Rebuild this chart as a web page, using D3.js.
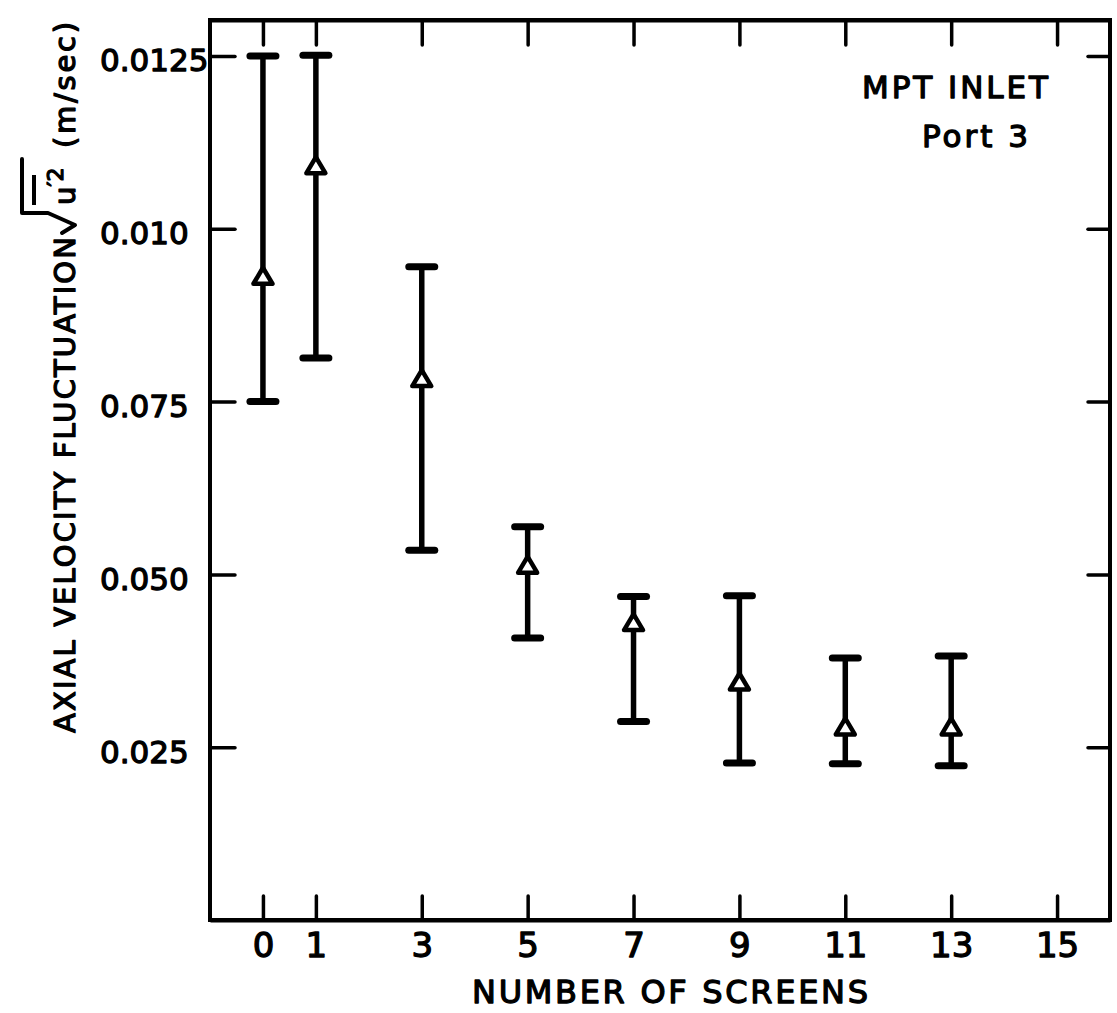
<!DOCTYPE html>
<html>
<head>
<meta charset="utf-8">
<script src="https://cdn.jsdelivr.net/npm/d3@7"></script>
<style>
  html, body { margin: 0; padding: 0; background: #fff; }
  svg { display: block; }
  text { font-family: "DejaVu Sans", "Liberation Sans", sans-serif; fill: #000; stroke: #000; stroke-width: 1.3px; stroke-linejoin: round; }
</style>
</head>
<body>
<svg id="chart" width="1117" height="1013"></svg>
<script>
// ---- data ----
const screens = [0, 1, 3, 5, 7, 9, 11, 13];
const meanValues = [0.0932, 0.1092, 0.0784, 0.0514, 0.0431, 0.0345, 0.0280, 0.0280];
const upperValues = [0.1250, 0.1251, 0.0945, 0.0569, 0.0468, 0.0469, 0.0379, 0.0382];
const lowerValues = [0.0750, 0.0813, 0.0535, 0.0408, 0.0287, 0.0227, 0.0226, 0.0223];

const xTickValues = [0, 1, 3, 5, 7, 9, 11, 13, 15];
const xTickLabels = ["0", "1", "3", "5", "7", "9", "11", "13", "15"];
const yTickValues = [0.025, 0.050, 0.075, 0.100, 0.125];
const yTickLabels = ["0.025", "0.050", "0.075", "0.010", "0.0125"];

const xTitle = "NUMBER OF SCREENS";
const yTitleMain = "AXIAL VELOCITY FLUCTUATION";
const yTitleUnit = "(m/sec)";
const annotation1 = "MPT INLET";
const annotation2 = "Port 3";

(function () {
// ---- layout ----
const svg = d3.select("#chart");
const pLeft = 210, pRight = 1110, pTop = 20, pBottom = 920;

const x = d3.scaleLinear().domain([-1, 16]).range([pLeft, pRight]);
const y = d3.scaleLinear().domain([0, 0.1302]).range([pBottom, pTop]);

const axisStroke = 4;

function styleAxis(g) {
  g.select(".domain").attr("stroke", "#000").attr("stroke-width", axisStroke);
  g.selectAll(".tick line").attr("stroke", "#000").attr("stroke-width", 3.5).attr("stroke-linecap", "round");
}

// bottom axis
const gBottom = svg.append("g").attr("transform", `translate(0,${pBottom})`)
  .call(d3.axisBottom(x).tickValues(xTickValues).tickSizeInner(-24).tickSizeOuter(0)
    .tickFormat((d, i) => xTickLabels[i]));
styleAxis(gBottom);
gBottom.selectAll(".tick text")
  .attr("y", 37).attr("dy", 0)
  .style("font-size", "34px").attr("font-family", null);

// top axis
const gTop = svg.append("g").attr("transform", `translate(0,${pTop})`)
  .call(d3.axisTop(x).tickValues(xTickValues).tickSizeInner(-25).tickSizeOuter(0).tickFormat(""));
styleAxis(gTop);

// left axis
const gLeft = svg.append("g").attr("transform", `translate(${pLeft},0)`)
  .call(d3.axisLeft(y).tickValues(yTickValues).tickSizeInner(-25).tickSizeOuter(0)
    .tickFormat((d, i) => yTickLabels[i]));
styleAxis(gLeft);
gLeft.selectAll(".tick text")
  .attr("x", -110).attr("dy", 15).attr("text-anchor", "start")
  .style("font-size", "31px").attr("font-family", null);
gLeft.select(".domain").attr("d", `M0,${pTop}V${pBottom}`);

// right axis
const gRight = svg.append("g").attr("transform", `translate(${pRight},0)`)
  .call(d3.axisRight(y).tickValues(yTickValues).tickSizeInner(-22).tickSizeOuter(0).tickFormat(""));
styleAxis(gRight);
gRight.select(".domain").attr("d", `M0,${pTop}V${pBottom}`);

// frame (close the box)
svg.append("path")
  .attr("d", `M${pLeft},${pTop}H${pRight}V${pBottom}H${pLeft}Z`)
  .attr("fill", "none").attr("stroke", "#000").attr("stroke-width", axisStroke)
  .attr("stroke-linejoin", "miter");

// ---- error bars ----
const data = screens.map((s, i) => ({ s, m: meanValues[i], hi: upperValues[i], lo: lowerValues[i] }));
const capHalf = 13;
const gBars = svg.append("g");
const bar = gBars.selectAll("g.bar").data(data).join("g").attr("class", "bar");
bar.append("line")
  .attr("x1", d => x(d.s)).attr("x2", d => x(d.s))
  .attr("y1", d => y(d.hi)).attr("y2", d => y(d.lo))
  .attr("stroke", "#000").attr("stroke-width", 5.5);
bar.append("line")
  .attr("x1", d => x(d.s) - capHalf).attr("x2", d => x(d.s) + capHalf)
  .attr("y1", d => y(d.hi)).attr("y2", d => y(d.hi))
  .attr("stroke", "#000").attr("stroke-width", 7).attr("stroke-linecap", "round");
bar.append("line")
  .attr("x1", d => x(d.s) - capHalf).attr("x2", d => x(d.s) + capHalf)
  .attr("y1", d => y(d.lo)).attr("y2", d => y(d.lo))
  .attr("stroke", "#000").attr("stroke-width", 7).attr("stroke-linecap", "round");
// open triangle markers
const triW = 19, triH = 16;
bar.append("path")
  .attr("transform", d => `translate(${x(d.s)},${y(d.m)})`)
  .attr("d", `M0,${-triH / 2}L${triW / 2},${triH / 2}L${-triW / 2},${triH / 2}Z`)
  .attr("fill", "#fff").attr("stroke", "#000").attr("stroke-width", 4.5).attr("stroke-linejoin", "round");

// ---- titles ----
svg.append("text")
  .attr("x", 472).attr("y", 1003)
  .attr("textLength", 396).attr("lengthAdjust", "spacing")
  .style("font-size", "32px")
  .text(xTitle);

const yT = svg.append("g").attr("transform", "translate(75,733) rotate(-90)");
yT.append("text").attr("x", 0).attr("y", 0)
  .attr("textLength", 496).attr("lengthAdjust", "spacing")
  .style("font-size", "29px").text(yTitleMain);
// radical sign
yT.append("path")
  .attr("d", "M500,-13 L508,0 L520,-27 L520,-53 L574,-53")
  .attr("fill", "none").attr("stroke", "#000").attr("stroke-width", 4)
  .attr("stroke-linejoin", "round").attr("stroke-linecap", "round");
const rad = yT.append("text").attr("x", 528).attr("y", 0).style("font-size", "29px");
rad.append("tspan").text("u");
rad.append("tspan").attr("dy", -12).style("font-size", "22px").text("\u2032");
rad.append("tspan").style("font-size", "22px").text("2");
// overline (mean bar)
yT.append("line").attr("x1", 528).attr("x2", 558).attr("y1", -41).attr("y2", -41)
  .attr("stroke", "#000").attr("stroke-width", 4);
yT.append("text").attr("x", 585).attr("y", 0)
  .attr("textLength", 126).attr("lengthAdjust", "spacing")
  .style("font-size", "29px").text(yTitleUnit);

// annotation
svg.append("text").attr("x", 862).attr("y", 98)
  .attr("textLength", 186).attr("lengthAdjust", "spacing")
  .style("font-size", "31px").text(annotation1);
svg.append("text").attr("x", 922).attr("y", 147)
  .attr("textLength", 106).attr("lengthAdjust", "spacing")
  .style("font-size", "31px").text(annotation2);
})();
</script>
</body>
</html>
